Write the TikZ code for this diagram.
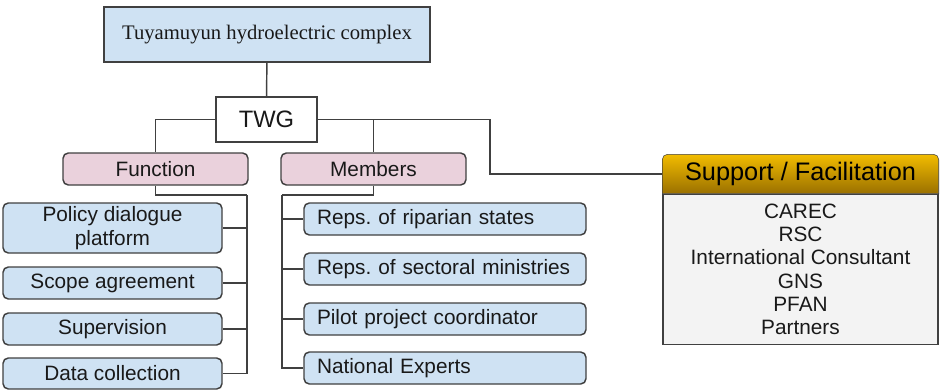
\documentclass[tikz,border=0pt]{standalone}
\usepackage{fontspec}
\setmainfont{Liberation Sans}
\newfontfamily\twgserif{Liberation Serif}
\usetikzlibrary{backgrounds}
\definecolor{boxblue}{HTML}{CFE2F3}
\definecolor{boxpink}{HTML}{EAD1DC}
\definecolor{boxgray}{HTML}{F3F3F3}
\definecolor{linegray}{HTML}{404040}
\definecolor{goldtop}{HTML}{F2BC00}
\definecolor{goldbot}{HTML}{9A7000}
\begin{document}
\frenchspacing
\begin{tikzpicture}[x=0.75pt,y=-0.75pt,line width=1.1pt,
  link/.style={draw=linegray},
  base/.style={draw=linegray,inner sep=0pt,text=black!90,font=\fontsize{15.6}{18}\selectfont},
  headbox/.style={base,fill=boxblue,minimum width=244.5pt,minimum height=41.25pt,font=\twgserif\fontsize{15.5}{18}\selectfont},
  twgbox/.style={base,fill=white,minimum width=75.75pt,minimum height=33.75pt,font=\fontsize{17.8}{20}\selectfont},
  groupbox/.style={base,fill=boxpink,rounded corners=4pt,minimum width=138.75pt,minimum height=24pt},
  taskbox/.style={base,fill=boxblue,rounded corners=4pt,minimum width=164.25pt,minimum height=24pt,align=center},
  memberbox/.style={base,fill=boxblue,rounded corners=4pt,minimum height=24pt,text width=192pt,inner xsep=9.75pt,align=left},
  supphead/.style={inner sep=0pt,minimum width=206.25pt,minimum height=28.5pt,font=\fontsize{19}{22}\selectfont},
  suppbody/.style={base,fill=boxgray,minimum width=206.25pt,minimum height=112.5pt,align=center,font=\fontsize{15.6}{17.5}\selectfont}]
\useasboundingbox (0,0) rectangle (940,390);
\node[headbox] (top) at (267,34.5) {Tuyamuyun hydroelectric complex};
\node[twgbox] (twg) at (266.5,119.5) {TWG};
\node[groupbox] (func) at (155.5,169) {Function};
\node[groupbox] (memb) at (373.5,169) {Members};
\node[taskbox,minimum height=37.5pt] (policy) at (112.5,228) {Policy dialogue\\platform};
\node[taskbox] (scope) at (112.5,283) {Scope agreement};
\node[taskbox] (superv) at (112.5,329) {Supervision};
\node[taskbox,minimum height=23.25pt] (data) at (112.5,373.5) {Data collection};
\node[memberbox] (riparian) at (445,219) {Reps. of riparian states};
\node[memberbox] (sectoral) at (445,269) {Reps. of sectoral ministries};
\node[memberbox] (pilot) at (445,319) {Pilot project coordinator};
\node[memberbox] (experts) at (445,368) {National Experts};
\node[supphead] (supp) at (800.5,174) {Support / Facilitation};
\node[suppbody,anchor=north] (partners) at (supp.south) {CAREC\\RSC\\International Consultant\\GNS\\PFAN\\Partners};
\begin{scope}[on background layer]
\shade[top color=goldtop,bottom color=goldbot,draw=linegray]
  (supp.south west) [rounded corners=4pt] -- (supp.north west) -- (supp.north east) [sharp corners] -- (supp.south east) -- cycle;
\end{scope}
\coordinate (bend) at (490,119.5);
\coordinate (ftrunk) at (247,195);
\coordinate (mtrunk) at (282,195);
\begin{scope}[link]
\draw (top) -- (twg);
\draw (twg.west) -| (func.north);
\draw (twg.east) -| (memb.north);
\draw (twg.east) -- (bend) |- (supp.west);
\draw (func.south) |- (ftrunk);
\draw (memb.south) |- (mtrunk);
\foreach \n in {policy,scope,superv,data}
  \draw (ftrunk) |- (\n.east);
\foreach \n in {riparian,sectoral,pilot,experts}
  \draw (mtrunk) |- (\n.west);
\end{scope}
\end{tikzpicture}
\end{document}
